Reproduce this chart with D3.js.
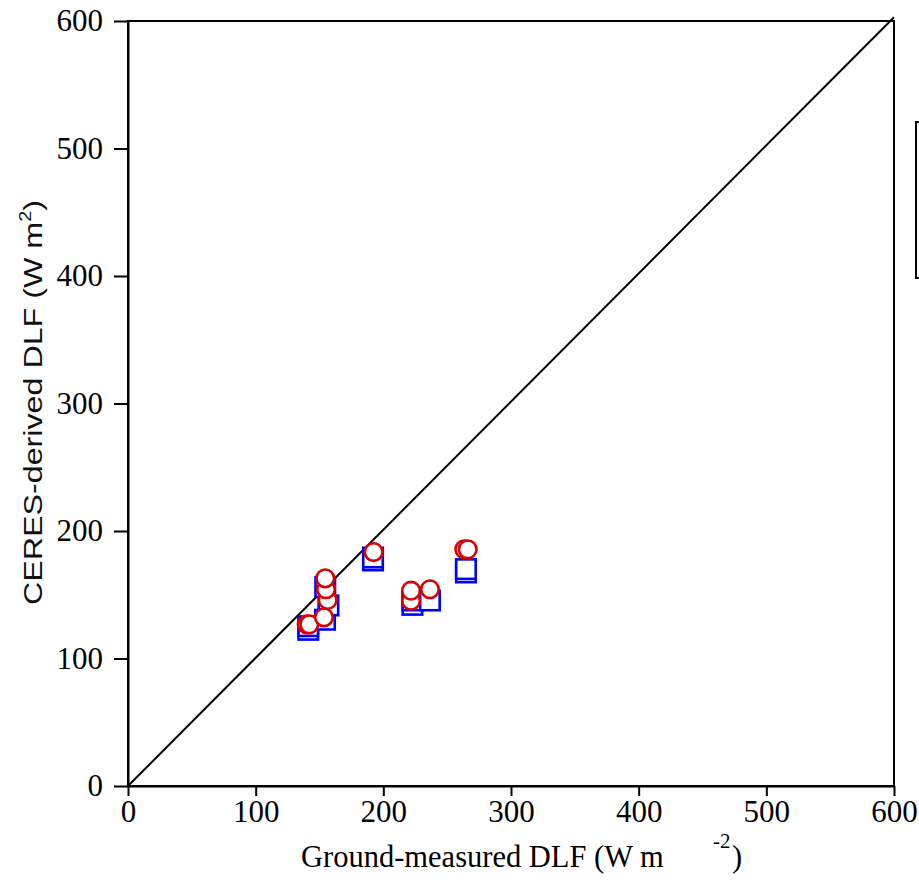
<!DOCTYPE html>
<html><head><meta charset="utf-8">
<script src="https://cdn.jsdelivr.net/npm/d3@7"></script>
<style>html,body{margin:0;padding:0;background:#fff;}svg{display:block;}</style>
</head><body>
<script>
// ---- data ----
const xTicks = [0, 100, 200, 300, 400, 500, 600];
const yTicks = [0, 100, 200, 300, 400, 500, 600];
// squares (blue) : ground-measured vs CERES-derived
const squareX = [141.2, 141.2, 154.3, 157.0, 154.5, 191.9, 191.9, 222.8, 222.8, 236.5, 264.7, 264.7];
const squareY = [122.5, 125.3, 130.4, 141.6, 156.0, 176.9, 179.2, 142.1, 145.5, 145.5, 167.5, 170.1];
// circles (red)
const circleX = [140.0, 142.0, 153.5, 156.4, 155.1, 154.5, 192.4, 221.7, 221.7, 236.5, 263.4, 266.1];
const circleY = [126.8, 126.8, 132.3, 145.9, 154.3, 162.9, 183.5, 145.3, 153.2, 154.3, 185.6, 185.6];
const lineX = [0, 600];
const lineY = [0, 603];
const xTitle = "Ground-measured DLF (W m";
const xTitleSup = "-2";
const yTitle = "CERES-derived DLF (W m";

const W = 919, H = 884;
const m = {left: 128, right: 25, top: 21, bottom: 98};
const svg = d3.select("body").append("svg").attr("width", W).attr("height", H);

const x = d3.scaleLinear().domain([0, 600]).range([m.left, W - m.right]);
const y = d3.scaleLinear().domain([0, 600]).range([H - m.bottom, m.top]);

const serif = "'Liberation Serif','Times New Roman',serif";

// frame
svg.append("rect").attr("x", x(0)).attr("y", y(600))
  .attr("width", x(600) - x(0)).attr("height", y(0) - y(600))
  .attr("fill", "none").attr("stroke", "#000").attr("stroke-width", 2);

// axes
const xAxis = svg.append("g").attr("transform", `translate(0,${y(0)})`)
  .call(d3.axisBottom(x).tickValues(xTicks).tickSize(10).tickPadding(4).tickSizeOuter(0));
const yAxis = svg.append("g").attr("transform", `translate(${x(0)},0)`)
  .call(d3.axisLeft(y).tickValues(yTicks).tickSize(14).tickPadding(11).tickSizeOuter(0));
[xAxis, yAxis].forEach(g => {
  g.select(".domain").attr("stroke", "#000").attr("stroke-width", 2);
  g.selectAll(".tick line").attr("stroke", "#000").attr("stroke-width", 2);
  g.selectAll("text").attr("font-family", serif).attr("font-size", 31).attr("fill", "#000");
});

// 1:1 line
svg.append("line")
  .attr("x1", x(lineX[0])).attr("y1", y(lineY[0]))
  .attr("x2", x(lineX[1])).attr("y2", y(lineY[1]))
  .attr("stroke", "#000").attr("stroke-width", 2);

// squares
const sq = 19.5;
svg.append("g").selectAll("rect").data(squareX.map((d, i) => [d, squareY[i]])).join("rect")
  .attr("x", d => x(d[0]) - sq / 2).attr("y", d => y(d[1]) - sq / 2)
  .attr("width", sq).attr("height", sq)
  .attr("fill", "#fff").attr("stroke", "#0000ff").attr("stroke-width", 2.6);

// circles
svg.append("g").selectAll("circle").data(circleX.map((d, i) => [d, circleY[i]])).join("circle")
  .attr("cx", d => x(d[0])).attr("cy", d => y(d[1])).attr("r", 8.8)
  .attr("fill", "#fff").attr("stroke", "#d80000").attr("stroke-width", 2.6);

// legend box (clipped at right edge)
svg.append("rect").attr("x", 916).attr("y", 122).attr("width", 40).attr("height", 156)
  .attr("fill", "none").attr("stroke", "#000").attr("stroke-width", 2);

// x title
svg.append("text").attr("x", 301).attr("y", 867)
  .attr("font-family", serif).attr("font-size", 30.5).attr("fill", "#000")
  .text(xTitle);
svg.append("text").attr("x", 713).attr("y", 848)
  .attr("font-family", serif).attr("font-size", 21).attr("fill", "#000")
  .text(xTitleSup);
svg.append("text").attr("x", 732).attr("y", 867)
  .attr("font-family", serif).attr("font-size", 30.5).attr("fill", "#000")
  .text(")");

// y title
const yt = svg.append("text")
  .attr("transform", "translate(42,605) rotate(-90)")
  .attr("font-family", "'Liberation Sans',Arial,sans-serif").attr("font-size", 26)
  .attr("fill", "#111").attr("textLength", 405).attr("lengthAdjust", "spacingAndGlyphs");
yt.append("tspan").text(yTitle);
yt.append("tspan").attr("font-size", 16).attr("dy", -11).text("2");
yt.append("tspan").attr("dy", 11).text(")");
</script>
</body></html>
